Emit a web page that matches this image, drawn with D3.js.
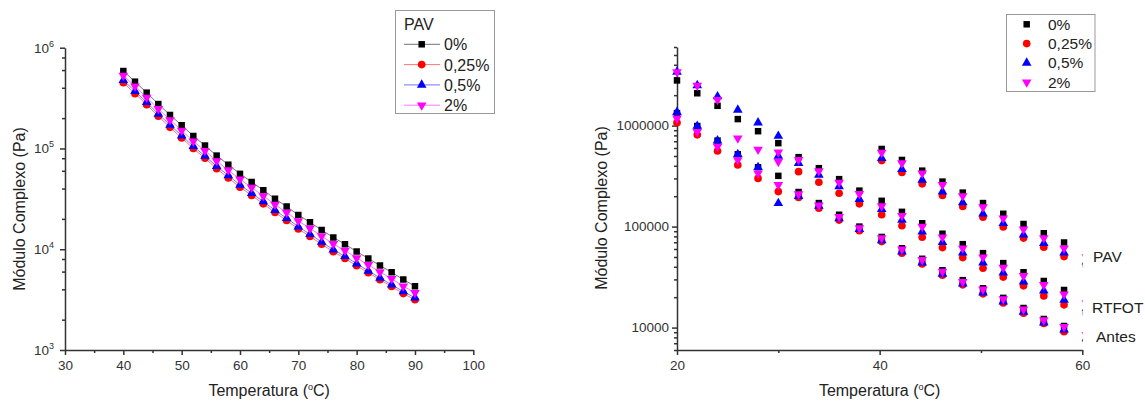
<!DOCTYPE html>
<html>
<head>
<meta charset="utf-8">
<script src="https://cdn.jsdelivr.net/npm/d3@7"></script>
<style>
  body { margin: 0; background: #fff; }
  svg text { font-family: "Liberation Sans", Arial, sans-serif; fill: #222; }
  .axis path, .axis line { stroke: #333; stroke-width: 1.5; }
  .axis text { font-size: 13.5px; fill: #333; }
</style>
</head>
<body>
<svg id="chart" width="1145" height="401"></svg>
<script>
// ---- data ----
const seriesNames = ['0%', '0,25%', '0,5%', '2%']
const seriesColors = ['#000000', '#ff0000', '#0000ff', '#ff00ff']

// left chart (PAV, lines + symbols)
const leftTemps = [40, 42, 44, 46, 48, 50, 52, 54, 56, 58, 60, 62, 64, 66, 68, 70, 72, 74, 76, 78, 80, 82, 84, 86, 88, 90]
const left0   = [5.87e5, 4.6e5, 3.58e5, 2.76e5, 2.15e5, 1.70e5, 1.33e5, 1.07e5, 8.5e4, 6.9e4, 5.6e4, 4.65e4, 3.85e4, 3.17e4, 2.65e4, 2.19e4, 1.85e4, 1.55e4, 1.31e4, 1.12e4, 9.5e3, 8.1e3, 6.9e3, 5.9e3, 5.0e3, 4.3e3]
const left025 = [4.5e5, 3.5e5, 2.72e5, 2.09e5, 1.62e5, 1.27e5, 1.0e5, 8.0e4, 6.3e4, 5.1e4, 4.13e4, 3.42e4, 2.82e4, 2.32e4, 1.93e4, 1.59e4, 1.34e4, 1.12e4, 9.45e3, 8.1e3, 6.85e3, 5.85e3, 4.98e3, 4.27e3, 3.63e3, 3.15e3]
const left05  = [4.75e5, 3.7e5, 2.87e5, 2.2e5, 1.71e5, 1.34e5, 1.05e5, 8.4e4, 6.65e4, 5.4e4, 4.35e4, 3.6e4, 2.97e4, 2.44e4, 2.03e4, 1.67e4, 1.41e4, 1.18e4, 9.9e3, 8.5e3, 7.2e3, 6.1e3, 5.2e3, 4.45e3, 3.8e3, 3.3e3]
const left2   = [5.3e5, 4.15e5, 3.2e5, 2.47e5, 1.92e5, 1.51e5, 1.18e5, 9.5e4, 7.5e4, 6.1e4, 4.95e4, 4.1e4, 3.38e4, 2.78e4, 2.32e4, 1.91e4, 1.61e4, 1.35e4, 1.13e4, 9.7e3, 8.2e3, 7.0e3, 5.95e3, 5.1e3, 4.3e3, 3.7e3]

// right chart (scatter, three ageing states)
const antesTemps = [20, 22, 24, 26, 28, 30, 32, 34, 36, 38, 40.2, 42.2, 44.2, 46.2, 48.2, 50.2, 52.2, 54.2, 56.2, 58.2, 60.4]
const antes0   = [1.33e6, 9.9e5, 7.1e5, 5.2e5, 3.87e5, 3.18e5, 2.2e5, 1.71e5, 1.31e5, 1.0e5, 7.9e4, 6.1e4, 4.8e4, 3.7e4, 2.95e4, 2.45e4, 1.97e4, 1.56e4, 1.22e4, 1.04e4, 8.8e3]
const antes025 = [1.07e6, 8.1e5, 5.6e5, 4.07e5, 3.0e5, 2.22e5, 1.94e5, 1.52e5, 1.16e5, 9.1e4, 7.1e4, 5.46e4, 4.27e4, 3.3e4, 2.65e4, 2.16e4, 1.75e4, 1.39e4, 1.1e4, 9.1e3, 7.5e3]
const antes05  = [1.36e6, 9.9e5, 7.1e5, 5.2e5, 3.87e5, 1.7e5, 2.0e5, 1.6e5, 1.2e5, 9.4e4, 7.3e4, 5.65e4, 4.4e4, 3.4e4, 2.72e4, 2.22e4, 1.8e4, 1.43e4, 1.12e4, 9.5e3, 7.8e3]
const antes2   = [1.18e6, 8.7e5, 6.2e5, 4.57e5, 3.37e5, 2.59e5, 2.1e5, 1.63e5, 1.25e5, 9.7e4, 7.7e4, 5.97e4, 4.68e4, 3.59e4, 2.85e4, 2.4e4, 1.92e4, 1.52e4, 1.19e4, 1.02e4, 8.5e3]

const rtfotTemps = [30, 32, 34, 36, 38, 40.2, 42.2, 44.2, 46.2, 48.2, 50.2, 52.2, 54.2, 56.2, 58.2, 60.4]
const rtfot0   = [null, 4.87e5, 3.79e5, 2.95e5, 2.27e5, 1.8e5, 1.4e5, 1.08e5, 8.5e4, 6.7e4, 5.46e4, 4.35e4, 3.53e4, 2.9e4, 2.36e4, 1.95e4]
const rtfot025 = [null, 3.5e5, 2.75e5, 2.14e5, 1.68e5, 1.31e5, 1.02e5, 7.85e4, 6.2e4, 4.93e4, 3.87e4, 3.16e4, 2.59e4, 2.06e4, 1.68e4, 1.38e4]
const rtfot05  = [5.0e5, 4.25e5, 3.25e5, 2.5e5, 1.87e5, 1.49e5, 1.16e5, 8.9e4, 7.0e4, 5.5e4, 4.4e4, 3.5e4, 2.85e4, 2.32e4, 1.88e4, 1.55e4]
const rtfot2   = [4.4e5, 4.6e5, 3.55e5, 2.73e5, 2.11e5, 1.6e5, 1.28e5, 1.0e5, 7.85e4, 6.1e4, 4.98e4, 3.93e4, 3.25e4, 2.65e4, 2.14e4, 1.75e4]

const pavLowTemps = [20, 22, 24, 26, 28, 30]
const pavLow0   = [2.8e6, 2.09e6, 1.57e6, 1.16e6, 8.8e5, 6.7e5]
const pavLow025 = [null, null, null, null, null, null]
const pavLow05  = [3.4e6, 2.5e6, 1.94e6, 1.43e6, 1.07e6, 7.9e5]
const pavLow2   = [3.4e6, 2.5e6, 1.8e6, 7.5e5, 5.8e5, 5.45e5]

const pavTemps = [40.2, 42.2, 44.2, 46.2, 48.2, 50.2, 52.2, 54.2, 56.2, 58.2, 60.4]
const pav0   = [5.87e5, 4.57e5, 3.58e5, 2.79e5, 2.17e5, 1.71e5, 1.34e5, 1.06e5, 8.6e4, 6.95e4, 5.6e4]
const pav025 = [4.5e5, 3.43e5, 2.65e5, 2.03e5, 1.58e5, 1.24e5, 9.9e4, 7.7e4, 6.25e4, 5.05e4, 4.1e4]
const pav05  = [4.75e5, 3.7e5, 2.9e5, 2.22e5, 1.73e5, 1.34e5, 1.08e5, 8.3e4, 6.85e4, 5.5e4, 4.5e4]
const pav2   = [5.4e5, 4.25e5, 3.38e5, 2.59e5, 2.01e5, 1.56e5, 1.21e5, 9.4e4, 7.7e4, 6.1e4, 5.0e4]

// annotation labels at the right edge, anchored at these modulus values
const stateLabels = ['PAV', 'RTFOT', 'Antes']
const stateLabelAt = [5.03e4, 1.59e4, 8.1e3]

// ---- drawing ----
const svg = d3.select('#chart')
const symbolTypes = [d3.symbolSquare, d3.symbolCircle, d3.symbolTriangle, d3.symbolTriangle]
const symbolSizes = [42, 46, 40, 40]
const symbolPath = i => d3.symbol().type(symbolTypes[i]).size(symbolSizes[i])()
const symbolRot = i => i === 3 ? ' rotate(180)' : ''

function supLabel (sel, base, sup, after) {
  sel.text(base)
  sel.append('tspan').attr('dy', -6).style('font-size', '9px').text(sup)
  if (after) sel.append('tspan').attr('dy', 6).text(after)
}

class LogChart {
  constructor (config) {
    this.config = config
    this.initVis()
  }

  initVis () {
    const vis = this, c = vis.config
    vis.g = svg.append('g')
    vis.x = d3.scaleLinear().domain(c.xDomain).range(c.xRange)
    vis.y = d3.scaleLog().domain(c.yDomain).range(c.yRange)
    const bottom = c.yRange[0], left = c.xRange[0]

    // minor ticks
    vis.g.append('g').attr('class', 'axis')
      .attr('transform', `translate(0,${bottom})`)
      .call(d3.axisBottom(vis.x).tickValues(c.xMinor).tickSize(3).tickFormat(''))
      .select('.domain').remove()
    vis.g.append('g').attr('class', 'axis')
      .attr('transform', `translate(${left},0)`)
      .call(d3.axisLeft(vis.y).tickValues(c.yMinor).tickSize(3).tickFormat(''))
      .select('.domain').remove()

    // major axes
    vis.g.append('g').attr('class', 'axis')
      .attr('transform', `translate(0,${bottom})`)
      .call(d3.axisBottom(vis.x).tickValues(c.xMajor).tickSize(5).tickSizeOuter(0).tickPadding(5).tickFormat(d3.format('d')))
    vis.yAxisG = vis.g.append('g').attr('class', 'axis')
      .attr('transform', `translate(${left},0)`)
      .call(d3.axisLeft(vis.y).tickValues(c.yMajor).tickSize(5).tickSizeOuter(0).tickPadding(c.yPad).tickFormat(c.yFormat))
    if (c.yPower) {
      vis.yAxisG.selectAll('.tick text').each(function (d) {
        const t = d3.select(this)
        supLabel(t, '10', String(Math.round(Math.log10(d))))
      })
    }

    // axis titles
    const xt = vis.g.append('text').attr('x', (c.xRange[0] + c.xRange[1]) / 2).attr('y', 396)
      .attr('text-anchor', 'middle').style('font-size', '16px')
    supLabel(xt, 'Temperatura (', 'o', 'C)')
    vis.g.append('text')
      .attr('transform', `translate(${c.yTitleX},${c.yTitleY}) rotate(-90)`)
      .attr('text-anchor', 'middle').style('font-size', '16px')
      .text('Módulo Complexo (Pa)')

    vis.clipId = 'clip' + c.id
    svg.append('clipPath').attr('id', vis.clipId).append('rect')
      .attr('x', 0).attr('y', 0).attr('width', c.xRange[1] + 0.5).attr('height', 401)
    vis.markG = vis.g.append('g').attr('clip-path', `url(#${vis.clipId})`)
  }

  renderVis (sets) {
    const vis = this, c = vis.config
    seriesNames.forEach((name, i) => {
      sets.forEach(set => {
        const pts = set.temps.map((t, k) => [t, set.values[i][k]]).filter(p => p[1] != null)
        if (c.lines) {
          vis.markG.append('path').datum(pts)
            .attr('fill', 'none').attr('stroke', seriesColors[i]).attr('stroke-opacity', 0.55).attr('stroke-width', 1)
            .attr('d', d3.line().x(d => vis.x(d[0])).y(d => vis.y(d[1])))
        }
        vis.markG.selectAll(null).data(pts).join('path')
          .attr('transform', d => `translate(${vis.x(d[0])},${vis.y(d[1])})${symbolRot(i)}`)
          .attr('d', symbolPath(i))
          .attr('fill', seriesColors[i])
      })
    })
  }
}

const minor = (lo, hi, steps) => {
  const out = []
  for (let e = lo; e <= hi; e++) steps.forEach(s => out.push(s * Math.pow(10, e)))
  return out
}

// left chart
const leftChart = new LogChart({
  id: 'L', xDomain: [30, 100], xRange: [65, 473.3], yDomain: [1e3, 1e6], yRange: [350, 47.7],
  xMajor: [30, 40, 50, 60, 70, 80, 90, 100], xMinor: [35, 45, 55, 65, 75, 85, 95],
  yMajor: [1e3, 1e4, 1e5, 1e6], yMinor: minor(3, 5, [2, 4, 6, 8]), yPad: 6, yPower: true,
  yFormat: d => '', yTitleX: 25, yTitleY: 209, lines: true
})
leftChart.renderVis([{temps: leftTemps, values: [left0, left025, left05, left2]}])

// right chart
const rightChart = new LogChart({
  id: 'R', xDomain: [20, 60], xRange: [677, 1082.3], yDomain: [6000, 6e6], yRange: [350, 47],
  xMajor: [20, 40, 60], xMinor: [30, 50],
  yMajor: [1e4, 1e5, 1e6], yMinor: minor(3, 6, [2, 3, 4, 5, 6, 7, 8, 9]).filter(v => v >= 6000 && v <= 6e6 && ![1e4, 1e5, 1e6].includes(v)),
  yPad: 3, yPower: false, yFormat: d3.format('d'), yTitleX: 607, yTitleY: 208, lines: false
})
rightChart.renderVis([
  {temps: antesTemps, values: [antes0, antes025, antes05, antes2]},
  {temps: rtfotTemps, values: [rtfot0, rtfot025, rtfot05, rtfot2]},
  {temps: pavLowTemps, values: [pavLow0, pavLow025, pavLow05, pavLow2]},
  {temps: pavTemps, values: [pav0, pav025, pav05, pav2]}
])

// state labels at right edge
svg.append('g').selectAll('text').data(stateLabels).join('text')
  .attr('x', (d, i) => [1093, 1092, 1096][i])
  .attr('y', (d, i) => rightChart.y(stateLabelAt[i]) + 5.5)
  .style('font-size', '15.5px')
  .text(d => d)

// left legend (lines + symbols)
const legL = svg.append('g')
legL.append('rect').attr('x', 395.5).attr('y', 10.5).attr('width', 99).attr('height', 103)
  .attr('fill', '#fff').attr('stroke', '#999')
legL.append('text').attr('x', 404).attr('y', 30).style('font-size', '16px').text('PAV')
const rowL = legL.selectAll('g.row').data(seriesNames).join('g')
  .attr('transform', (d, i) => `translate(0,${44.3 + i * 20.3})`)
rowL.append('line').attr('x1', 404).attr('x2', 440)
  .attr('stroke', (d, i) => seriesColors[i]).attr('stroke-opacity', 0.55)
rowL.append('path').attr('transform', (d, i) => `translate(421.7,0)${symbolRot(i)}`)
  .attr('d', (d, i) => symbolPath(i)).attr('fill', (d, i) => seriesColors[i])
rowL.append('text').attr('x', 444).attr('y', 6).style('font-size', '16px').text(d => d)

// right legend (symbols only)
const legR = svg.append('g')
legR.append('rect').attr('x', 1006.5).attr('y', 14.5).attr('width', 88.5).attr('height', 77)
  .attr('fill', '#fff').attr('stroke', '#999')
const rowR = legR.selectAll('g.row').data(seriesNames).join('g')
  .attr('transform', (d, i) => `translate(0,${24.3 + i * 19.3})`)
rowR.append('path').attr('transform', (d, i) => `translate(1026.7,0)${symbolRot(i)}`)
  .attr('d', (d, i) => symbolPath(i)).attr('fill', (d, i) => seriesColors[i])
rowR.append('text').attr('x', 1048).attr('y', 5.5).style('font-size', '15.5px').text(d => d)
</script>
</body>
</html>
